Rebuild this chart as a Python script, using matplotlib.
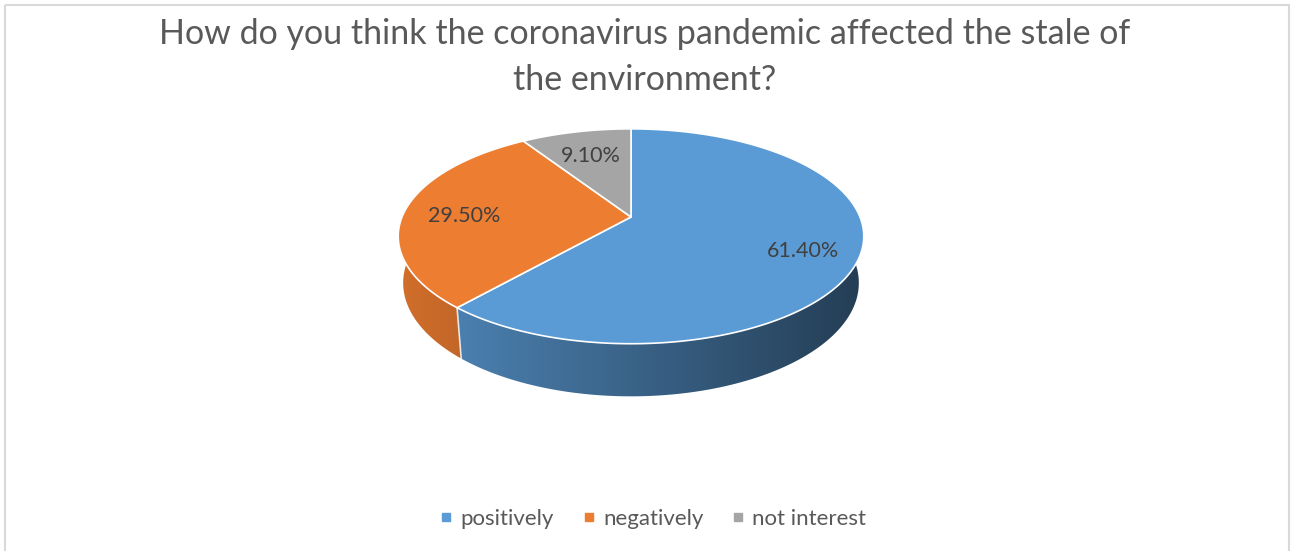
import numpy as np
import matplotlib
matplotlib.use("Agg")
import matplotlib.pyplot as plt
from matplotlib.patches import Polygon, Rectangle
from matplotlib.lines import Line2D
from matplotlib.colors import to_rgb

# chart data
labels = ["positively", "negatively", "not interest"]
shares = [61.4, 29.5, 9.1]
label_text = ["61.40%", "29.50%", "9.10%"]
colors = ["#5B9BD5", "#ED7D31", "#A5A5A5"]
title = "How do you think the coronavirus pandemic affected the stale of\nthe environment?"

plt.rcParams['font.family'] = ['Lato', 'DejaVu Sans']

W, H = 1292, 551
fig = plt.figure(figsize=(W/100, H/100), dpi=100)
ax = fig.add_axes([0, 0, 1, 1])
ax.set_xlim(0, W)
ax.set_ylim(H, 0)
ax.axis('off')

# chart border
ax.add_patch(Rectangle((5, 5), W - 8, H + 10, fill=False, edgecolor="#D9D9D9", lw=1.5))

# simple perspective camera for the 3d pie
cx, cy = 631, 217      # pie apex on screen
s = 229                # radius in pixels
elev = np.radians(27)
D = 4.96               # camera distance
h = 0.23               # pie thickness

def project(t, Y=0.0, r=1.0):
    X = r*np.cos(t)
    Z = r*np.sin(t)
    yc = Y*np.cos(elev) + Z*np.sin(elev)
    depth = D + Z*np.cos(elev) - Y*np.sin(elev)
    f = D/depth
    return cx + s*X*f, cy - s*yc*f

# slice boundaries, clockwise from 12 o'clock
fr = np.array(shares)/np.sum(shares)
bounds = np.radians(90 - 360*np.concatenate([[0], np.cumsum(fr)]))

# horizontal shading of the side wall: light on the left, dark on the right
xs = np.linspace(cx - s - 10, cx + s + 10, 400)
shade = 0.88 - 0.48*(xs - (cx - s))/(2*s)

# side walls (front part)
for i in range(len(shares)):
    ts = np.linspace(bounds[i], bounds[i+1], 300)
    ts = ts[np.sin(ts) < 0.3]
    if len(ts) < 2:
        continue
    tx, ty = project(ts)
    bx, by = project(ts, -h)
    wall = Polygon(list(zip(tx, ty)) + list(zip(bx[::-1], by[::-1])), closed=True,
                   facecolor='none', edgecolor='none')
    ax.add_patch(wall)
    base = np.array(to_rgb(colors[i]))
    img = np.clip(shade[None, :, None]*base[None, None, :], 0, 1)
    im = ax.imshow(img, extent=(xs[0], xs[-1], by.max() + 5, ty.min() - 5),
                   aspect='auto', interpolation='bilinear', zorder=1)
    im.set_clip_path(wall)
    # white edge on the wall where two slices meet in front
    if np.sin(bounds[i]) < 0:
        xa, ya = project(bounds[i])
        xa2, ya2 = project(bounds[i], -h)
        ax.plot([xa, xa2], [ya, ya2], color="white", lw=1.2, alpha=0.8, zorder=1.5)

ax.set_xlim(0, W)
ax.set_ylim(H, 0)

# top face
for i in range(len(shares)):
    ts = np.linspace(bounds[i], bounds[i+1], 200)
    px, py = project(ts)
    pts = [(cx, cy)] + list(zip(px, py))
    ax.add_patch(Polygon(pts, closed=True, facecolor=colors[i], edgecolor="white",
                         lw=1.2, joinstyle='round', zorder=2))

# data labels
for i in range(len(shares)):
    mid = (bounds[i] + bounds[i+1])/2
    lx, ly = project(mid, 0, 0.75)
    ax.text(lx + 3, ly + 5, label_text[i], ha='center', va='center', fontsize=15.5,
            color="#404040", zorder=3)

# title
ax.text(645, 57, title, ha='center', va='center', fontsize=24.5, color="#595959",
        linespacing=1.55)

# legend
handles = [Line2D([], [], marker='s', linestyle='none', markersize=6, color=c) for c in colors]
fig.legend(handles, labels, loc='center', bbox_to_anchor=(653/W, 1 - 519/H), ncol=3,
           frameon=False, fontsize=16, handlelength=0.6, handletextpad=0.35,
           columnspacing=1.25, labelcolor="#595959")

fig.savefig("out.png", dpi=100)
